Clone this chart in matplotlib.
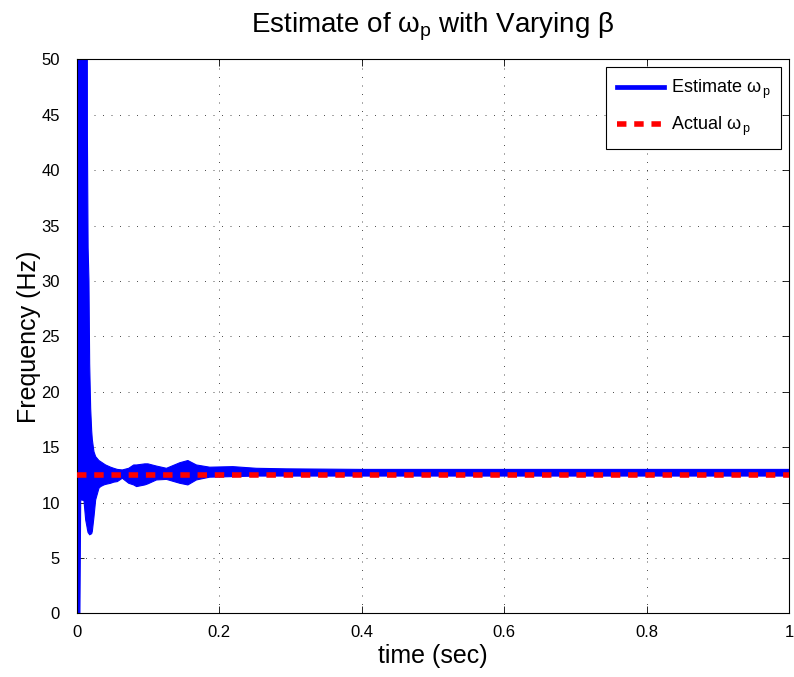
import matplotlib
matplotlib.use("Agg")
import matplotlib.pyplot as plt
from matplotlib.lines import Line2D

plt.rcParams['font.family'] = ['Liberation Sans', 'DejaVu Sans']
plt.rcParams['mathtext.fontset'] = 'custom'
plt.rcParams['mathtext.rm'] = 'Liberation Sans'
plt.rcParams['mathtext.it'] = 'Liberation Sans'

# ---- data ----
# envelope of the estimated omega_p signal (lower / upper), Hz
t_env = [0.0, 0.0003, 0.0045, 0.0056, 0.0102, 0.0126, 0.0145, 0.0150, 0.0160,
         0.0172, 0.0182, 0.0196, 0.0210, 0.0219, 0.0242, 0.0266, 0.0312, 0.0336,
         0.0382, 0.0406, 0.0476, 0.0520, 0.0570, 0.0640, 0.0730, 0.0800, 0.0840,
         0.0956, 0.1000, 0.1120, 0.1260, 0.1446, 0.1560, 0.1680, 0.1866, 0.2190,
         0.2520, 0.2940, 0.4000, 0.5000, 0.6000, 0.7000, 0.8000, 0.9000, 1.0000]
est_lo = [0.0, 0.0, 0.0, 10.25, 10.2, 8.45, 7.8, 7.6, 7.3,
          7.2, 7.1, 7.15, 7.2, 7.4, 8.7, 10.25, 11.3, 11.45,
          11.6, 11.65, 11.75, 11.85, 11.9, 12.2, 11.75, 11.6, 11.45,
          11.6, 11.7, 12.05, 12.1, 11.75, 11.6, 12.05, 12.3, 12.35,
          12.4, 12.4, 12.4, 12.4, 12.4, 12.4, 12.4, 12.4, 12.4]
est_hi = [0.0, 80.0, 80.0, 80.0, 80.0, 80.0, 80.0, 43.0, 33.0,
          30.0, 22.5, 18.5, 16.5, 15.7, 14.6, 14.15, 13.8, 13.7,
          13.5, 13.4, 13.2, 13.1, 13.0, 12.95, 13.1, 13.4, 13.4,
          13.5, 13.5, 13.3, 13.1, 13.6, 13.8, 13.4, 13.2, 13.25,
          13.1, 13.05, 13.0, 13.0, 13.0, 13.0, 13.0, 13.0, 13.0]

t_act = [0.0, 1.0]
act_val = [12.5, 12.5]

x_ticks = [0, 0.2, 0.4, 0.6, 0.8, 1.0]
x_ticklabels = ['0', '0.2', '0.4', '0.6', '0.8', '1']
y_ticks = [0, 5, 10, 15, 20, 25, 30, 35, 40, 45, 50]

# ---- figure ----
fig = plt.figure(figsize=(7.94, 6.77), dpi=100)
ax = fig.add_axes([0.0966, 0.0938, 0.8977, 0.8186])

ax.fill_between(t_env, est_lo, est_hi, color='#0000ff', edgecolor='#0000ff',
                linewidth=0.8, zorder=2)
ax.plot(t_act, act_val, color='#ff0000', linewidth=4.0, dashes=(1.7, 1.4),
        solid_capstyle='butt', dash_capstyle='butt', zorder=3)

ax.set_xlim(0, 1)
ax.set_ylim(0, 50)
ax.set_xticks(x_ticks)
ax.set_xticklabels(x_ticklabels)
ax.set_yticks(y_ticks)
ax.tick_params(direction='in', top=True, right=True, length=5, width=0.6,
               labelsize=12)
ax.tick_params(axis='x', pad=8)
ax.tick_params(axis='y', pad=12)
for s in ax.spines.values():
    s.set_linewidth(0.8)
ax.grid(True, color='0.2', linestyle=(0, (1.2, 9)), linewidth=0.6)
ax.set_axisbelow(True)

ax.set_title(r'Estimate of ω$_\mathrm{p}$ with Varying β', fontsize=20, pad=19)
ax.set_xlabel('time (sec)', fontsize=18, labelpad=3)
ax.set_ylabel('Frequency (Hz)', fontsize=18, labelpad=0)

handles = [Line2D([0], [0], color='#0000ff', linewidth=3.4),
           Line2D([0], [0], color='#ff0000', linewidth=4.0, dashes=(1.7, 1.4),
                  dash_capstyle='butt')]
leg = ax.legend(handles, [r'Estimate ω$_{\,\mathrm{p}}$', r'Actual ω$_{\,\mathrm{p}}$'],
                loc='upper right', fontsize=13, fancybox=False, framealpha=1,
                edgecolor='k', handlelength=2.6, handletextpad=0.4,
                borderpad=0.6, labelspacing=0.75, borderaxespad=0.45)
leg.get_frame().set_linewidth(0.8)

fig.savefig('out.png', dpi=100)
